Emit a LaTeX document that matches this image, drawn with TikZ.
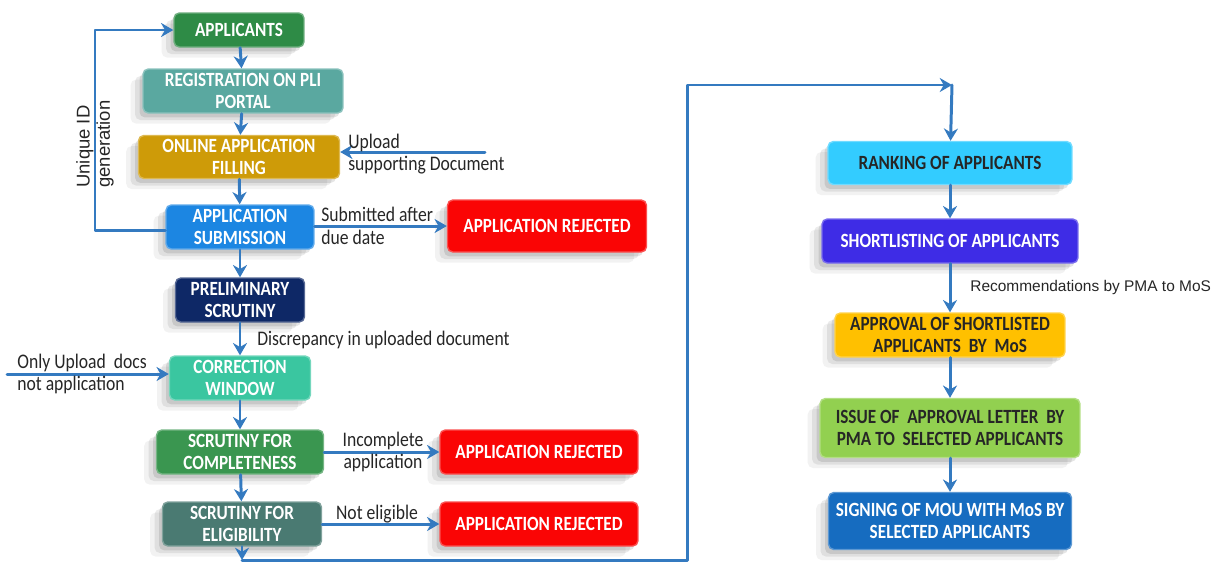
\documentclass[tikz,border=0pt]{standalone}
\usepackage{fontspec}
\setmainfont{Carlito}
\newfontfamily\boxfont[FakeStretch=0.85]{Carlito}
\newfontfamily\lblfont[FakeStretch=0.85]{Carlito}
\newfontfamily\arialfont{Liberation Sans}
\usetikzlibrary{arrows.meta,shadows}

\definecolor{arrowblue}{RGB}{52,122,192}
\definecolor{appgreen}{RGB}{46,139,70}
\definecolor{regteal}{RGB}{90,168,160}
\definecolor{onlinegold}{RGB}{206,155,8}
\definecolor{subblue}{RGB}{28,134,226}
\definecolor{rejred}{RGB}{250,5,5}
\definecolor{prelimnavy}{RGB}{14,40,102}
\definecolor{corrturq}{RGB}{58,198,160}
\definecolor{complgreen}{RGB}{58,150,80}
\definecolor{eligteal}{RGB}{74,122,114}
\definecolor{rankcyan}{RGB}{51,204,255}
\definecolor{shortviolet}{RGB}{62,44,230}
\definecolor{approvamber}{RGB}{255,192,0}
\definecolor{issuegreen}{RGB}{146,208,80}
\definecolor{signblue}{RGB}{22,108,192}

\tikzset{
	softshadow/.style={
		general shadow={shadow xshift=-7pt,shadow yshift=-6pt,fill=black,opacity=0.05},
		general shadow={shadow xshift=-4.5pt,shadow yshift=-4pt,fill=black,opacity=0.08},
		general shadow={shadow xshift=-2pt,shadow yshift=-2.5pt,fill=black,opacity=0.1}},
	box/.style={rectangle,rounded corners=3pt,inner sep=0pt,align=center,
		fill=#1,draw=#1!70!white,line width=0.8pt,softshadow,text=white,
		font=\boxfont\bfseries\fontsize{11.5}{13}\selectfont},
	darktext/.style={text=black!85},
	flow/.style={draw=arrowblue,line width=1.7pt,-{Stealth[length=7pt,width=8pt]}},
	lbl/.style={inner sep=0pt,font=\lblfont\fontsize{11.8}{13}\selectfont,text=black!85},
	albl/.style={inner sep=0pt,font=\arialfont\fontsize{10.5}{11.5}\selectfont,text=black!85}
}

\begin{document}
\begin{tikzpicture}[x=0.02cm,y=-0.02cm,line join=round,line cap=round]
	\useasboundingbox (0,0) rectangle (1217,562);
	
	% left column
	\node[box=appgreen,minimum width=2.6cm,minimum height=0.68cm] (app) at (239,30) {APPLICANTS};
	\node[box=regteal,minimum width=4cm,minimum height=0.88cm] (reg) at (243,91) {REGISTRATION ON PLI\\PORTAL};
	\node[box=onlinegold,minimum width=4.02cm,minimum height=0.86cm] (online) at (239,157) {ONLINE APPLICATION\\FILLING};
	\node[box=subblue,minimum width=2.96cm,minimum height=0.88cm] (sub) at (240,227) {APPLICATION\\SUBMISSION};
	\node[box=prelimnavy,minimum width=2.58cm,minimum height=0.88cm] (prelim) at (240,300) {PRELIMINARY\\SCRUTINY};
	\node[box=corrturq,minimum width=2.82cm,minimum height=0.88cm] (corr) at (240,378) {CORRECTION\\WINDOW};
	\node[box=complgreen,minimum width=3.34cm,minimum height=0.88cm] (compl) at (240,452) {SCRUTINY FOR\\COMPLETENESS};
	\node[box=eligteal,minimum width=3.18cm,minimum height=0.88cm] (elig) at (242,524) {SCRUTINY FOR\\ELIGIBILITY};
	
	% rejections
	\node[box=rejred,minimum width=3.98cm,minimum height=1.04cm] (rejA) at (547,226) {APPLICATION REJECTED};
	\node[box=rejred,minimum width=3.96cm,minimum height=0.88cm] (rejB) at (539,452) {APPLICATION REJECTED};
	\node[box=rejred,minimum width=3.96cm,minimum height=0.88cm] (rejC) at (539,524) {APPLICATION REJECTED};
	
	% right column
	\node[box=rankcyan,darktext,minimum width=4.88cm,minimum height=0.86cm] (rank) at (950,163) {RANKING OF APPLICANTS};
	\node[box=shortviolet,minimum width=5.12cm,minimum height=0.88cm] (short) at (950,241) {SHORTLISTING OF APPLICANTS};
	\node[box=approvamber,darktext,minimum width=4.6cm,minimum height=0.88cm] (approv) at (950,335) {APPROVAL OF SHORTLISTED\\APPLICANTS\ \ BY\ \ MoS};
	\node[box=issuegreen,darktext,minimum width=5.2cm,minimum height=1.18cm] (issue) at (950,428) {ISSUE OF\ \ APPROVAL LETTER\ \ BY\\PMA TO\ \ SELECTED APPLICANTS};
	\node[box=signblue,minimum width=4.86cm,minimum height=1.14cm] (sign) at (950,521) {SIGNING OF MOU WITH MoS BY\\SELECTED APPLICANTS};
	
	\coordinate (upsrc) at (485,152);
	\coordinate (docsrc) at (7,374);
	\coordinate (loopL) at (95,230);
	\coordinate (base) at (687,560);
	\coordinate (corner) at (687,85);
	\coordinate (top) at (952,85);
	
	% main flow
	\draw[flow] (app) -- (reg);
	\draw[flow] (reg) -- (online);
	\draw[flow] (online) -- (sub);
	\draw[flow] (sub) -- (prelim);
	\draw[flow] (prelim) -- (corr);
	\draw[flow] (corr) -- (compl);
	\draw[flow] (compl) -- (elig);
	\draw[flow] (elig) -- (elig |- base);
	\draw[flow] (elig |- base) -- (base) -- (corner) -- (top);
	\draw[flow] (top) -- (rank);
	\draw[flow] (rank) -- (short);
	\draw[flow] (short) -- (approv);
	\draw[flow] (approv) -- (issue);
	\draw[flow] (issue) -- (sign);
	
	% side branches
	\draw[flow] (sub.west |- loopL) -- (loopL) |- (app.west);
	\draw[flow] (upsrc) -- (upsrc -| online.east);
	\draw[flow] (docsrc) -- (docsrc -| corr.west);
	\draw[flow] (sub.east |- rejA) -- (rejA.west);
	\draw[flow] (compl) -- (rejB);
	\draw[flow] (elig) -- (rejC);
	
	% labels
	\node[albl,rotate=90,align=left,anchor=west] (uid) at (95,188) {Unique ID\\generation};
	\node[lbl,align=left,anchor=west] (uplbl) at (348,154) {Upload\\supporting Document};
	\node[lbl,align=left,anchor=west] (latelbl) at (321,226) {Submitted after\\due date};
	\node[lbl,anchor=west] (disclbl) at (257,340) {Discrepancy in uploaded document};
	\node[lbl,align=left,anchor=west] (docslbl) at (17,374) {Only Upload\ \ docs\\not application};
	\node[lbl,align=center] (inclbl) at (383,452) {Incomplete\\application};
	\node[lbl] (elglbl) at (377,514) {Not eligible};
	\node[albl,anchor=west,font=\arialfont\fontsize{8.8}{10}\selectfont] (reclbl) at (970,287) {Recommendations by PMA to MoS};
\end{tikzpicture}
\end{document}
